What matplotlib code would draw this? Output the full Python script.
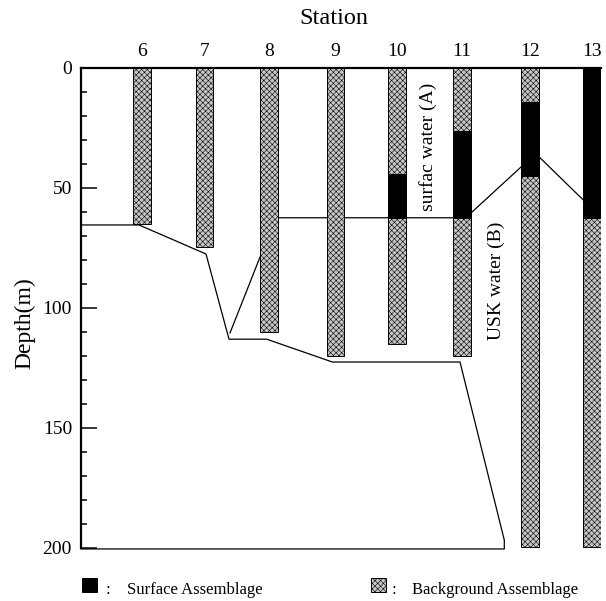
import matplotlib
matplotlib.use('Agg')
import matplotlib.pyplot as plt
from matplotlib.patches import Rectangle

plt.rcParams['font.family'] = ['Liberation Serif', 'DejaVu Serif']
plt.rcParams['hatch.linewidth'] = 0.4
plt.rcParams['hatch.color'] = '#707070'

# station labels and their position along the section (arbitrary distance units)
stations = ['6', '7', '8', '9', '10', '11', '12', '13']
station_x = [61.2, 123.5, 187.8, 254.5, 316.2, 381.2, 448.9, 511.2]

# sampled depth of each station (m)
sample_depth = [65, 74.5, 110, 120, 115, 120, 199.4, 199.4]

# depth interval of the surface assemblage (None = absent)
surf_top = [None, None, None, None, 44.3, 26.3, 14, 0]
surf_bot = [None, None, None, None, 62.4, 62.4, 45, 62.5]

# lower boundary of USK water (B)
lower_x = [0, 58, 125, 148, 185.7, 251.4, 379, 423.3, 423.3, 0]
lower_d = [65.4, 65.4, 77.5, 113, 113, 122.5, 122.5, 196.7, 200.4, 200.4]
# short branch near station 8
branch_x = [149, 179]
branch_d = [110.4, 78.8]

# boundary between surface water (A) and USK water (B)
upper_x = [196.7, 381, 390, 440.7]
upper_d = [62.4, 62.4, 60.4, 41]
upper2_x = [458, 502.3]
upper2_d = [37, 55]

bar_w = 17.7
grey = '#c6c6c6'
dots = 'xxxxxx'

fig = plt.figure(figsize=(6.06, 6.01), dpi=100)
ax = fig.add_axes([81 / 606, 1 - 548 / 601, 520 / 606, 480 / 601])

ax.plot(lower_x, lower_d, color='black', lw=0.9, clip_on=False, zorder=2)
ax.plot(branch_x, branch_d, color='black', lw=0.9, zorder=2)
ax.plot(upper_x, upper_d, color='black', lw=0.9, zorder=2)
ax.plot(upper2_x, upper2_d, color='black', lw=0.9, zorder=2)

# background assemblage bars
ax.bar(station_x, sample_depth, bottom=0, width=bar_w, color=grey,
       edgecolor='black', linewidth=0.7, hatch=dots, zorder=3)
# surface assemblage parts
for x, t, b in zip(station_x, surf_top, surf_bot):
    if t is None:
        continue
    ax.bar(x, b - t, bottom=t, width=bar_w, color='black',
           edgecolor='black', linewidth=0.7, zorder=4)

ax.set_xlim(0, 520)
ax.set_ylim(200, 0)

ax.spines['right'].set_visible(False)
ax.spines['bottom'].set_visible(False)
ax.spines['top'].set_linewidth(1.6)
ax.spines['left'].set_linewidth(1.6)

ax.set_yticks([0, 50, 100, 150, 200])
ax.set_yticks(range(0, 201, 10), minor=True)
ax.tick_params(axis='y', which='major', direction='in', length=11.5,
               width=1.1, labelsize=14, pad=6.5)
ax.tick_params(axis='y', which='minor', direction='in', length=4.3, width=1.1)

ax.xaxis.set_ticks_position('top')
ax.set_xticks(station_x)
ax.set_xticklabels(stations)
ax.tick_params(axis='x', length=0, labelsize=14, pad=6)

ax.text(347.3, 32.7, 'surfac water (A)', rotation=90, ha='center', va='center',
        fontsize=14, zorder=5)
ax.text(415, 88.5, 'USK water (B)', rotation=90, ha='center', va='center',
        fontsize=14, zorder=5)

fig.text(333.8 / 606, 1 - 18 / 601, 'Station', ha='center', va='center', fontsize=17.5)
fig.text(25 / 606, 1 - 323 / 601, 'Depth(m)', rotation=90, ha='center', va='center',
         fontsize=17)

# legend
fig.patches.append(Rectangle((82.3 / 606, 1 - 591.7 / 601), 14.3 / 606, 13.4 / 601,
                             transform=fig.transFigure, facecolor='black',
                             edgecolor='black', lw=0.7))
fig.text(108 / 606, 1 - 594 / 601, ':', ha='center', va='baseline', fontsize=12)
fig.text(126.8 / 606, 1 - 594 / 601, 'Surface Assemblage', ha='left', va='baseline',
         fontsize=12)
fig.patches.append(Rectangle((371 / 606, 1 - 591.7 / 601), 15 / 606, 13.4 / 601,
                             transform=fig.transFigure, facecolor=grey,
                             edgecolor='black', lw=0.7, hatch=dots))
fig.text(394 / 606, 1 - 594 / 601, ':', ha='center', va='baseline', fontsize=12)
fig.text(411.7 / 606, 1 - 594 / 601, 'Background Assemblage', ha='left', va='baseline',
         fontsize=12)

fig.savefig('out.png', dpi=100)
